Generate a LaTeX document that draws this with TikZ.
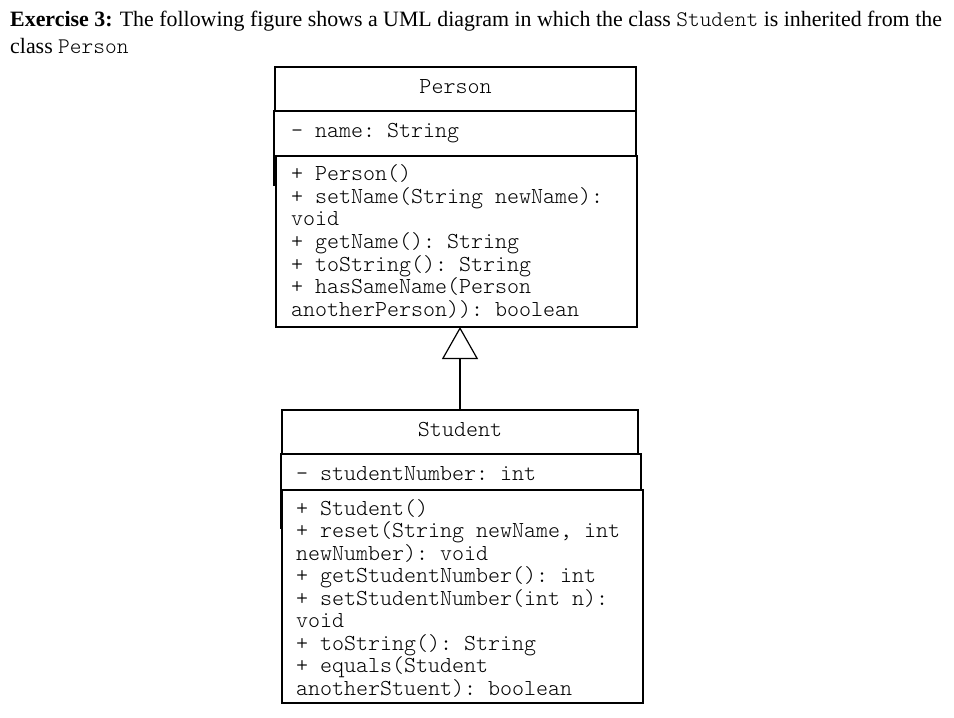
\documentclass[tikz,border=0pt]{standalone}
\usepackage{fontspec}
\setmainfont{Liberation Serif}
\IfFontExistsTF{Latin Modern Mono Light}{\setmonofont{Latin Modern Mono Light}}{\setmonofont{Latin Modern Mono}}
\usetikzlibrary{arrows.meta}
\begin{document}
\begin{tikzpicture}[x=1pt,y=-1pt,
  box/.style={draw, line width=1.2pt, inner sep=0pt, outer sep=0pt},
  mono/.style={font=\fontsize{22.86}{22.6}\selectfont\ttfamily, inner sep=0pt},
  hdr/.style={font=\fontsize{21.9}{27}\selectfont, inner sep=0pt, anchor=base west}]
\path[use as bounding box, fill=white] (0,0) rectangle (954,718);
% header
\node[hdr] (h1) at (10,26) {\textbf{Exercise 3:} The following figure shows a UML diagram in which the class {\fontsize{22.3}{20}\selectfont\ttfamily Student} is inherited from the};
\node[hdr] (h2) at (10,53) {class {\fontsize{22.3}{20}\selectfont\ttfamily Person}};
% Person class
\node[box, minimum width=361pt, minimum height=44pt] (pT) at (455.5,89) {};
\node[box, minimum width=362pt, minimum height=45pt] (pA) at (455,133.5) {};
\node[box, minimum width=361pt, minimum height=171pt] (pM) at (456.5,241.5) {};
\draw[line width=1.2pt] (pA.south west) -- ++(0,30);
\node[mono, anchor=base] (pTt) at (455.5,93) {Person};
\node[mono, anchor=base west] (pAt) at (291,137) {- name: String};
\foreach \t [count=\i] in {{+ Person()},{+ setName(String newName):},{void},{+ getName(): String},{+ toString(): String},{+ hasSameName(Person},{anotherPerson)): boolean}}
  \node[mono, anchor=base west] (pm\i) at (291,{180.6+22.67*(\i-1)}) {\t};
% Student class
\node[box, minimum width=356pt, minimum height=44pt] (sT) at (460,432) {};
\node[box, minimum width=360pt, minimum height=36pt] (sA) at (461,472) {};
\node[box, minimum width=361pt, minimum height=213pt] (sM) at (462.5,596.5) {};
\draw[line width=1.2pt] (sA.south west) -- ++(0,39);
\node[mono, anchor=base] (sTt) at (460,436) {Student};
\node[mono, anchor=base west] (sAt) at (296,480) {- studentNumber: int};
\foreach \t [count=\i] in {{+ Student()},{+ reset(String newName, int},{newNumber): void},{+ getStudentNumber(): int},{+ setStudentNumber(int n):},{void},{+ toString(): String},{+ equals(Student},{anotherStuent): boolean}}
  \node[mono, anchor=base west] (sm\i) at (296,{515+22.5*(\i-1)}) {\t};
% inheritance
\draw[line width=1.2pt, -{Triangle[open, length=32pt, width=36pt]}] (sT.north) -- (sT.north |- pM.south);
\end{tikzpicture}
\end{document}
